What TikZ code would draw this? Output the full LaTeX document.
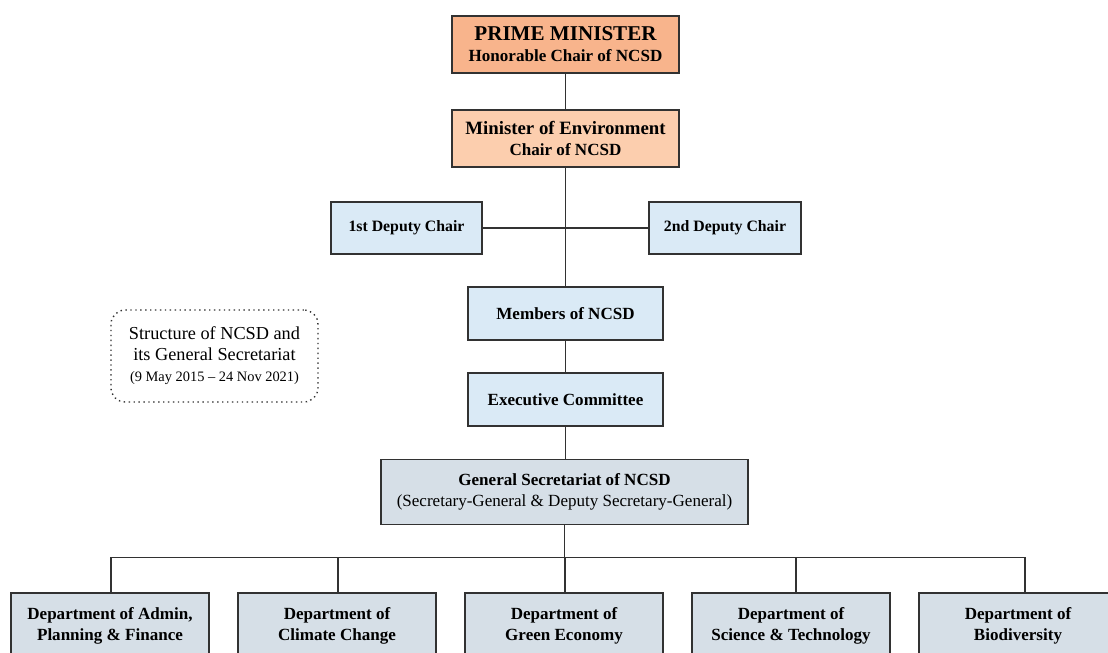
\documentclass[tikz,border=0pt]{standalone}
\usepackage{fontspec}
\setmainfont{Liberation Serif}
\usepackage{tikz}
\usetikzlibrary{calc,positioning}
\usepackage{xcolor}
\definecolor{myorange}{RGB}{248,180,140}
\definecolor{mypeach}{RGB}{252,206,174}
\definecolor{mysky}{RGB}{218,234,246}
\definecolor{mygrey}{RGB}{214,223,231}
\definecolor{myline}{RGB}{50,50,50}

\begin{document}
\begin{tikzpicture}[x=0.02cm,y=-0.02cm,
    box/.style={draw=myline, line width=0.8pt, rectangle, inner sep=0pt, align=center,
      font=\fontsize{9.7}{12}\selectfont\bfseries},
    link/.style={draw=myline, line width=0.75pt}]
  \useasboundingbox (0,0) rectangle (1108,652);
  \clip (0,0) rectangle (1108,652);

  % chairs
  \node[box, fill=myorange, minimum width=4.54cm, minimum height=1.14cm] (pm) at (565.5,44.5)
    {{\fontsize{12}{13.5}\selectfont PRIME MINISTER}\\Honorable Chair of NCSD};
  \node[box, fill=mypeach, minimum width=4.54cm, minimum height=1.14cm] (minenv) at (565.5,138.5)
    {{\fontsize{10.7}{13.5}\selectfont Minister of Environment}\\Chair of NCSD};

  % deputies
  \node[box, fill=mysky, minimum width=3.02cm, minimum height=1.04cm, font=\fontsize{9}{11}\selectfont\bfseries] (dep1) at (406.5,228) {1st Deputy Chair};
  \node[box, fill=mysky, minimum width=3.04cm, minimum height=1.04cm, font=\fontsize{9}{11}\selectfont\bfseries] (dep2) at (725,228) {2nd Deputy Chair};

  % members and committee
  \node[box, fill=mysky, minimum width=3.9cm, minimum height=1.06cm] (members) at (565.5,313.5) {Members of NCSD};
  \node[box, fill=mysky, minimum width=3.9cm, minimum height=1.06cm] (exec) at (565.5,399.5) {Executive Committee};

  % secretariat
  \node[box, fill=mygrey, minimum width=7.34cm, minimum height=1.3cm] (gensec) at (564.5,492)
    {General Secretariat of NCSD\\{\mdseries (Secretary-General \& Deputy Secretary-General)}};

  % note
  \node[draw=myline, dotted, line width=0.8pt, rounded corners=8pt, minimum width=4.14cm, minimum height=1.84cm,
    inner sep=0pt, align=center] (note) at (214.5,356)
    {{\fontsize{10.4}{12.5}\selectfont Structure of NCSD and}\\
     {\fontsize{10.4}{12.5}\selectfont its General Secretariat}\\
     {\fontsize{8.2}{11}\selectfont (9 May 2015 -- 24 Nov 2021)}};

  % departments
  \node[box, fill=mygrey, minimum width=3.96cm, minimum height=1.32cm] (d1) at (110,626) {Department of Admin,\\Planning \& Finance};
  \node[box, fill=mygrey, minimum width=3.96cm, minimum height=1.32cm] (d2) at (337,626) {Department of\\Climate Change};
  \node[box, fill=mygrey, minimum width=3.96cm, minimum height=1.32cm] (d3) at (564,626) {Department of\\Green Economy};
  \node[box, fill=mygrey, minimum width=3.96cm, minimum height=1.32cm] (d4) at (791,626) {Department of\\Science \& Technology};
  \node[box, fill=mygrey, minimum width=3.96cm, minimum height=1.32cm] (d5) at (1018,626) {Department of\\Biodiversity};

  % Connections
  \coordinate (bus) at (564.5,557.5);
  \coordinate (d4top) at ($(d4.north)+(5,0)$);
  \coordinate (d5top) at ($(d5.north)+(7,0)$);
  \draw[link] (pm)--(minenv);
  \draw[link] (minenv)--(members);
  \draw[link] (dep1)--(dep2);
  \draw[link] (members)--(exec);
  \draw[link] (exec)--(exec |- gensec.north);
  \draw[link] (gensec)--(bus);
  \draw[link] ($(d1.north)+(1,0)$)--($(d1.north |- bus)+(1,0)$)--(d5top |- bus)--(d5top);
  \foreach \d in {d2,d3}
    \draw[link] ($(\d.north)+(1,0)$)--($(\d.north |- bus)+(1,0)$);
  \draw[link] (d4top)--(d4top |- bus);
\end{tikzpicture}
\end{document}
